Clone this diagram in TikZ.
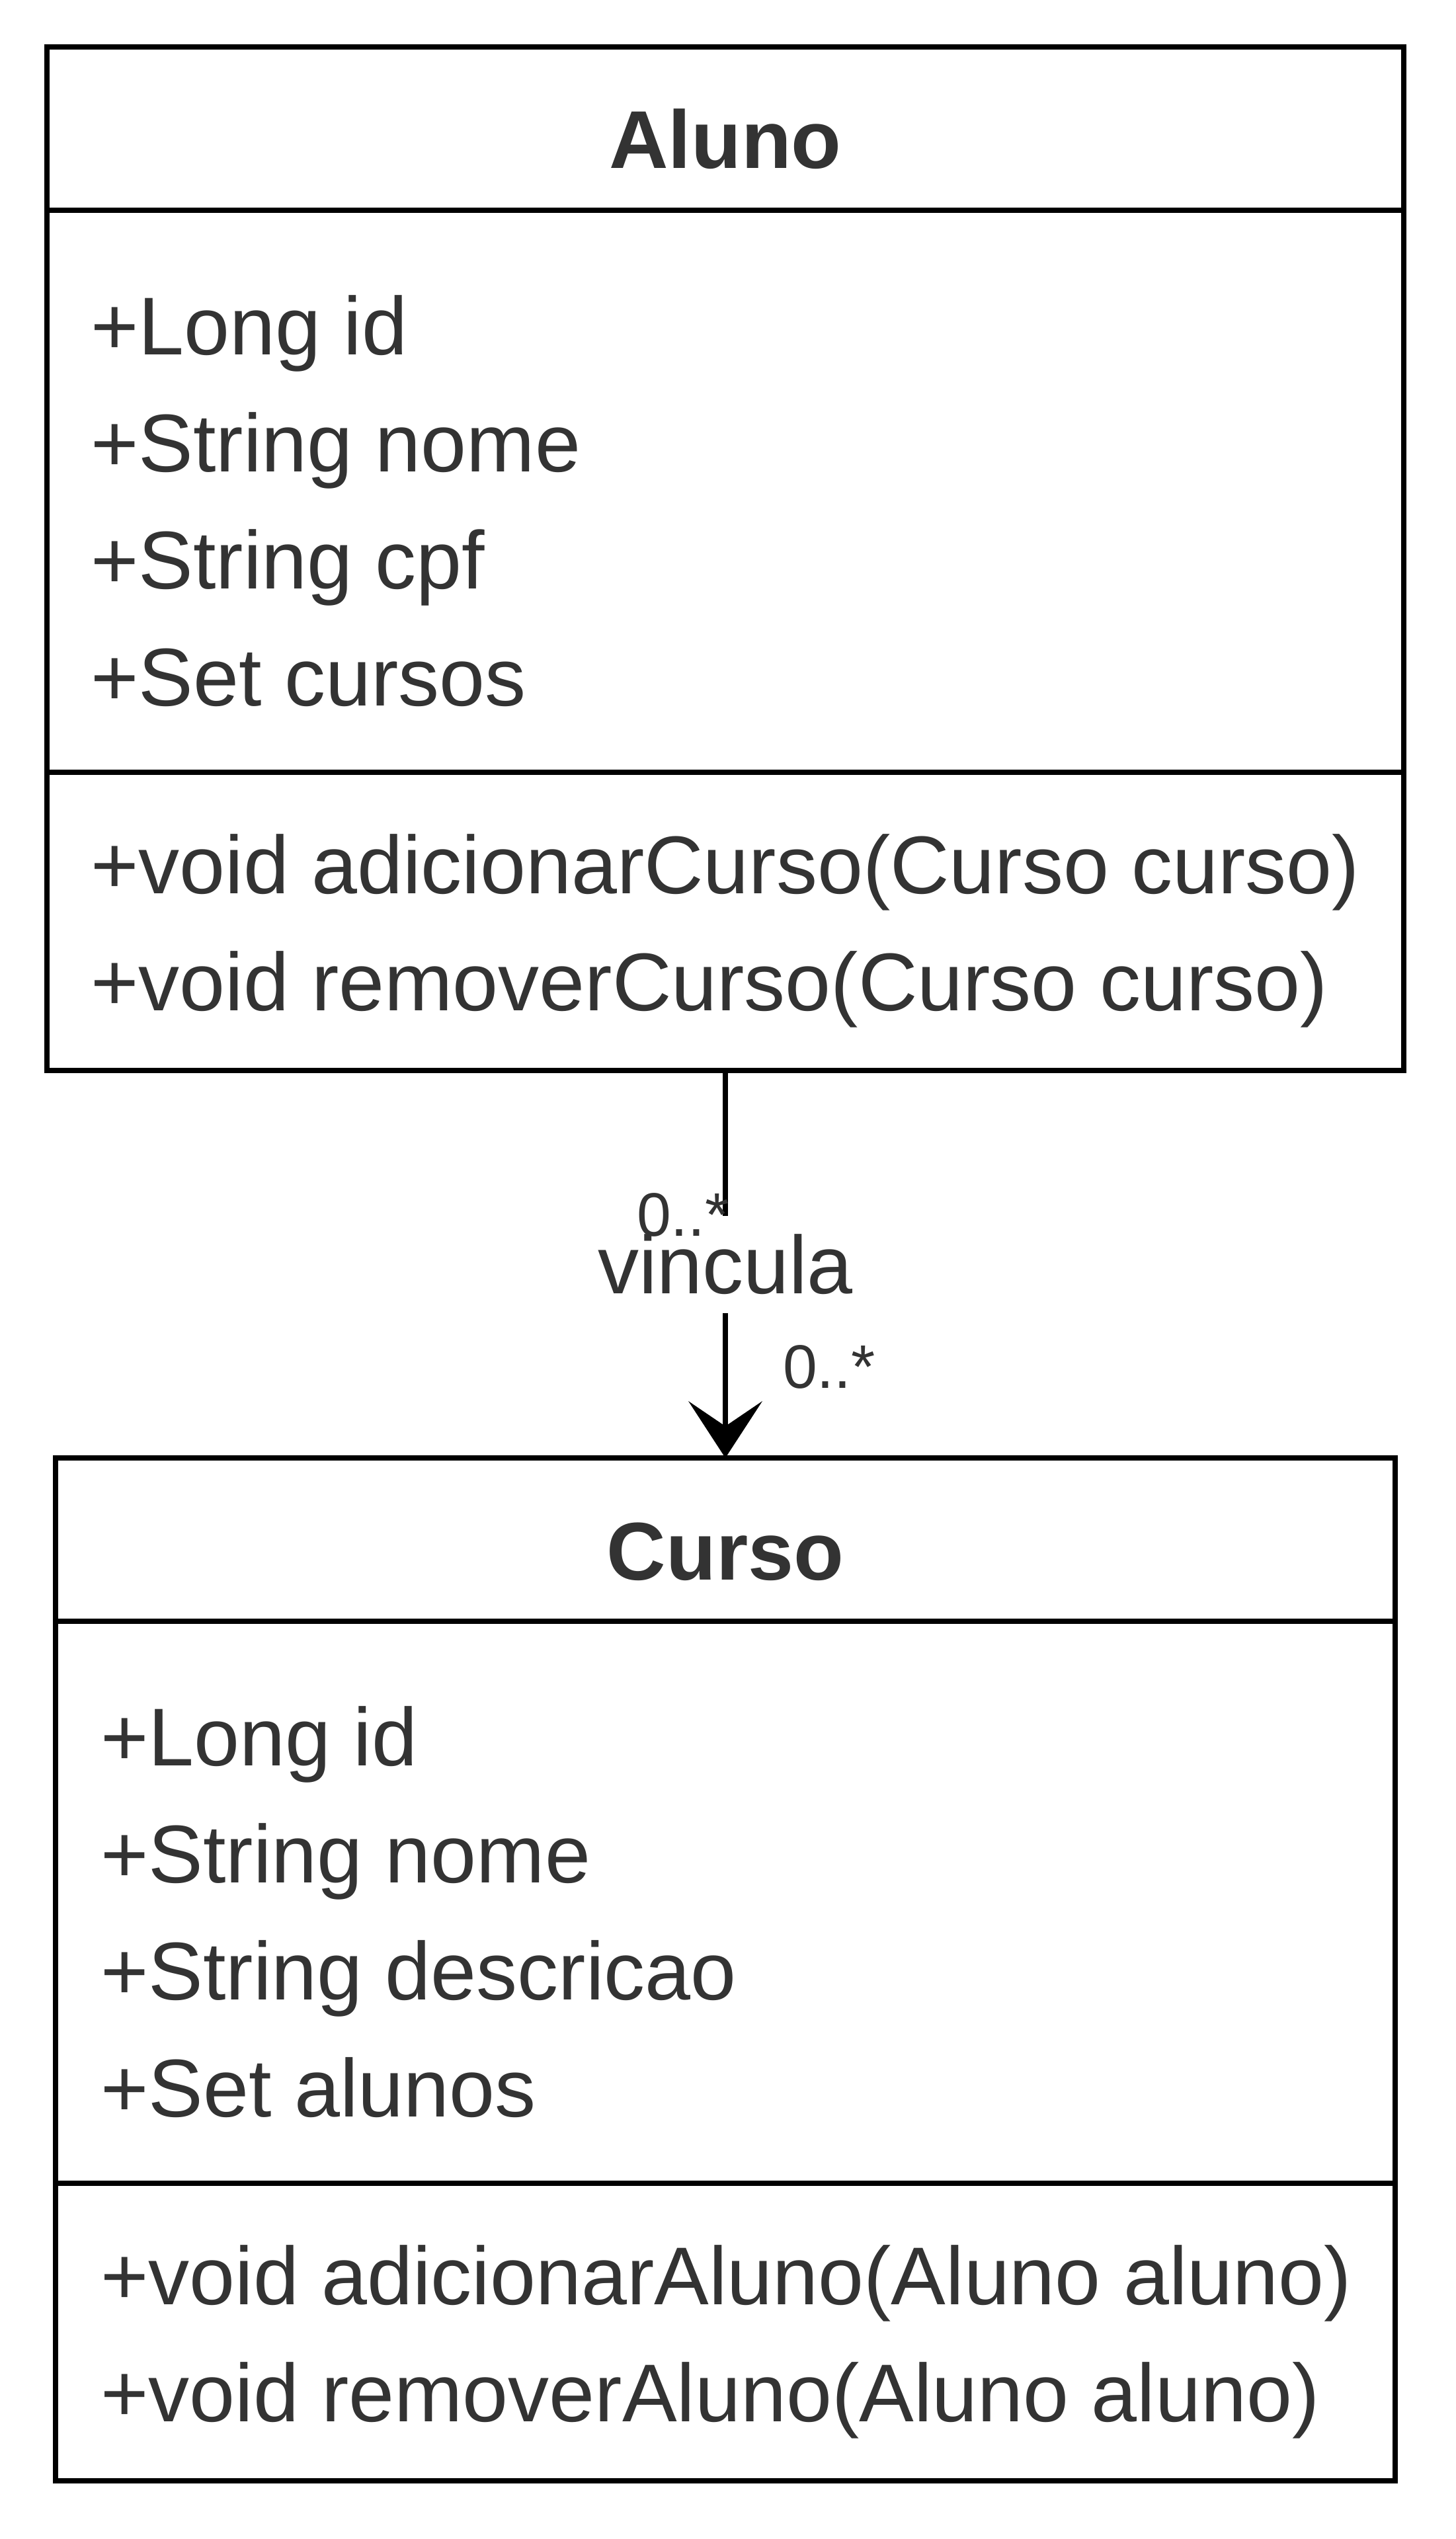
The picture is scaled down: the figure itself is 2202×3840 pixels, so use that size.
\documentclass[tikz,border=0pt]{standalone}
\usepackage{fontspec}
\setmainfont{Liberation Sans}
\usetikzlibrary{arrows.meta}
\definecolor{txt}{HTML}{333333}
\begin{document}
\begin{tikzpicture}[x=1pt,y=-1pt,
  compartment/.style={draw=black, line width=7.75pt, fill=white, inner sep=0pt, outer sep=0pt, anchor=north west},
  member/.style={anchor=base west, inner sep=0pt, text=txt, font=\fontsize{124}{148}\selectfont},
  classname/.style={anchor=base, inner sep=0pt, text=txt, font=\fontsize{124}{148}\selectfont\bfseries},
  mult/.style={anchor=base west, inner sep=0pt, text=txt, font=\fontsize{93}{112}\selectfont},
  assoc/.style={draw=black, line width=7.75pt},
  assoclabel/.style={fill=white, inner sep=0pt, text=txt, text height=118pt, text depth=29pt, font=\fontsize{124}{148}\selectfont},
]
\useasboundingbox (0,0) rectangle (2202,3840);

% class Aluno
\node[compartment, minimum width=2052pt, minimum height=247pt] (aluno-head) at (71,71) {};
\node[compartment, minimum width=2052pt, minimum height=850pt] (aluno-attr) at (71,318) {};
\node[compartment, minimum width=2052pt, minimum height=451pt] (aluno-ops) at (71,1168) {};
\node[classname] (aluno-name) at (1097,255) {Aluno};
\node[member] (a1) at (137,536) {+Long id};
\node[member] (a2) at (137,713) {+String nome};
\node[member] (a3) at (137,890) {+String cpf};
\node[member] (a4) at (137,1067) {+Set cursos};
\node[member] (a5) at (137,1351) {+void adicionarCurso(Curso curso)};
\node[member] (a6) at (137,1528) {+void removerCurso(Curso curso)};

% class Curso
\node[compartment, minimum width=2026pt, minimum height=247pt] (curso-head) at (84,2205) {};
\node[compartment, minimum width=2026pt, minimum height=850pt] (curso-attr) at (84,2452) {};
\node[compartment, minimum width=2026pt, minimum height=450pt] (curso-ops) at (84,3302) {};
\node[classname] (curso-name) at (1097,2389) {Curso};
\node[member] (c1) at (152,2670) {+Long id};
\node[member] (c2) at (152,2847) {+String nome};
\node[member] (c3) at (152,3024) {+String descricao};
\node[member] (c4) at (152,3201) {+Set alunos};
\node[member] (c5) at (152,3485) {+void adicionarAluno(Aluno aluno)};
\node[member] (c6) at (152,3662) {+void removerAluno(Aluno aluno)};

% association with open (chevron) arrow head
\draw[assoc, -{Stealth[length=86pt, width=112pt, inset=38pt, line width=0pt]}]
  (aluno-ops.south) -- (curso-head.north)
  node[assoclabel, midway] (vinc) {vincula};
\node[mult] (m-src) at (963,1869) {0..*};
\node[mult] (m-dst) at (1184,2099) {0..*};
\end{tikzpicture}
\end{document}
